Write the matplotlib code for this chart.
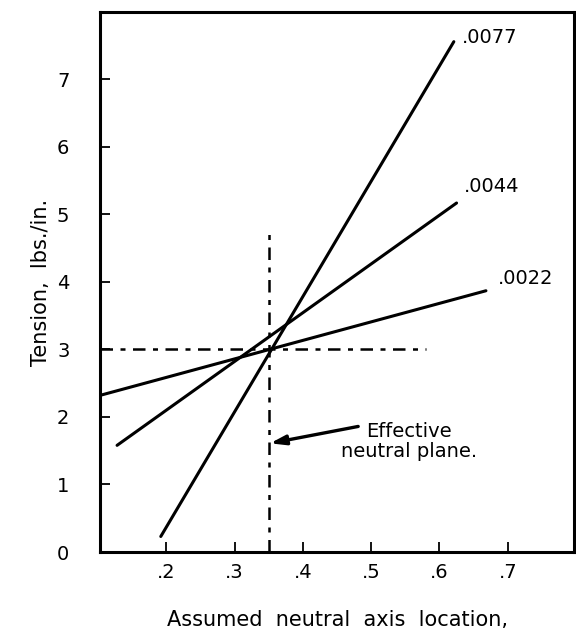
import matplotlib
matplotlib.use("Agg")
import matplotlib.pyplot as plt

# lines of tension vs assumed neutral axis, labelled by strain
strain_labels = [".0077", ".0044", ".0022"]
x_start = [0.192, 0.128, 0.103]
y_start = [0.23, 1.58, 2.32]
x_end = [0.621, 0.625, 0.668]
y_end = [7.56, 5.17, 3.87]
label_pos = [(0.633, 7.62), (0.635, 5.42), (0.686, 4.05)]

# effective neutral plane
neutral_x = 0.35
neutral_top = 4.8
tension_level = 3.0
tension_right = 0.58
arrow_tip = (0.352, 1.61)
arrow_tail = (0.481, 1.86)
note_pos = (0.555, 1.64)

x_ticks = [0.2, 0.3, 0.4, 0.5, 0.6, 0.7]
x_tick_labels = [".2", ".3", ".4", ".5", ".6", ".7"]
y_ticks = [0, 1, 2, 3, 4, 5, 6, 7]

plt.rcParams['font.family'] = ['DejaVu Sans']

fig = plt.figure(figsize=(5.76, 6.4), dpi=100)
ax = fig.add_axes([0.1736, 0.1375, 0.823, 0.8438])

for xs, ys, xe, ye in zip(x_start, y_start, x_end, y_end):
    ax.plot([xs, xe], [ys, ye], color="black", lw=2.2, solid_capstyle="round")

for lab, (lx, ly) in zip(strain_labels, label_pos):
    ax.text(lx, ly, lab, fontsize=14, ha="left", va="center")

# dash-dot reference lines
ax.plot([0.103, tension_right], [tension_level, tension_level], color="black",
        lw=1.8, dashes=(5, 3, 2, 3))
ax.plot([neutral_x, neutral_x], [0, neutral_top], color="black",
        lw=1.8, dashes=(5, 3, 2, 3))

# arrow and note
ax.annotate("", xy=arrow_tip, xytext=arrow_tail,
            arrowprops=dict(arrowstyle="-|>,head_length=0.9,head_width=0.28",
                            color="black", lw=2.4, shrinkA=0, shrinkB=0))
ax.text(note_pos[0], note_pos[1], "Effective\nneutral plane.", fontsize=14,
        ha="center", va="center", linespacing=1.1)

ax.set_xlim(0.103, 0.797)
ax.set_ylim(0, 8)
ax.set_xticks(x_ticks)
ax.set_xticklabels(x_tick_labels)
ax.set_yticks(y_ticks)
ax.tick_params(direction="in", length=7, width=1.3, labelsize=14)
ax.tick_params(axis="y", pad=22)
ax.tick_params(axis="x", pad=8)
for sp in ax.spines.values():
    sp.set_linewidth(2.2)

ax.set_ylabel("Tension,  lbs./in.", fontsize=15, labelpad=4)
ax.set_xlabel("Assumed  neutral  axis  location,", fontsize=15, labelpad=20)

fig.savefig("out.png", dpi=100)
